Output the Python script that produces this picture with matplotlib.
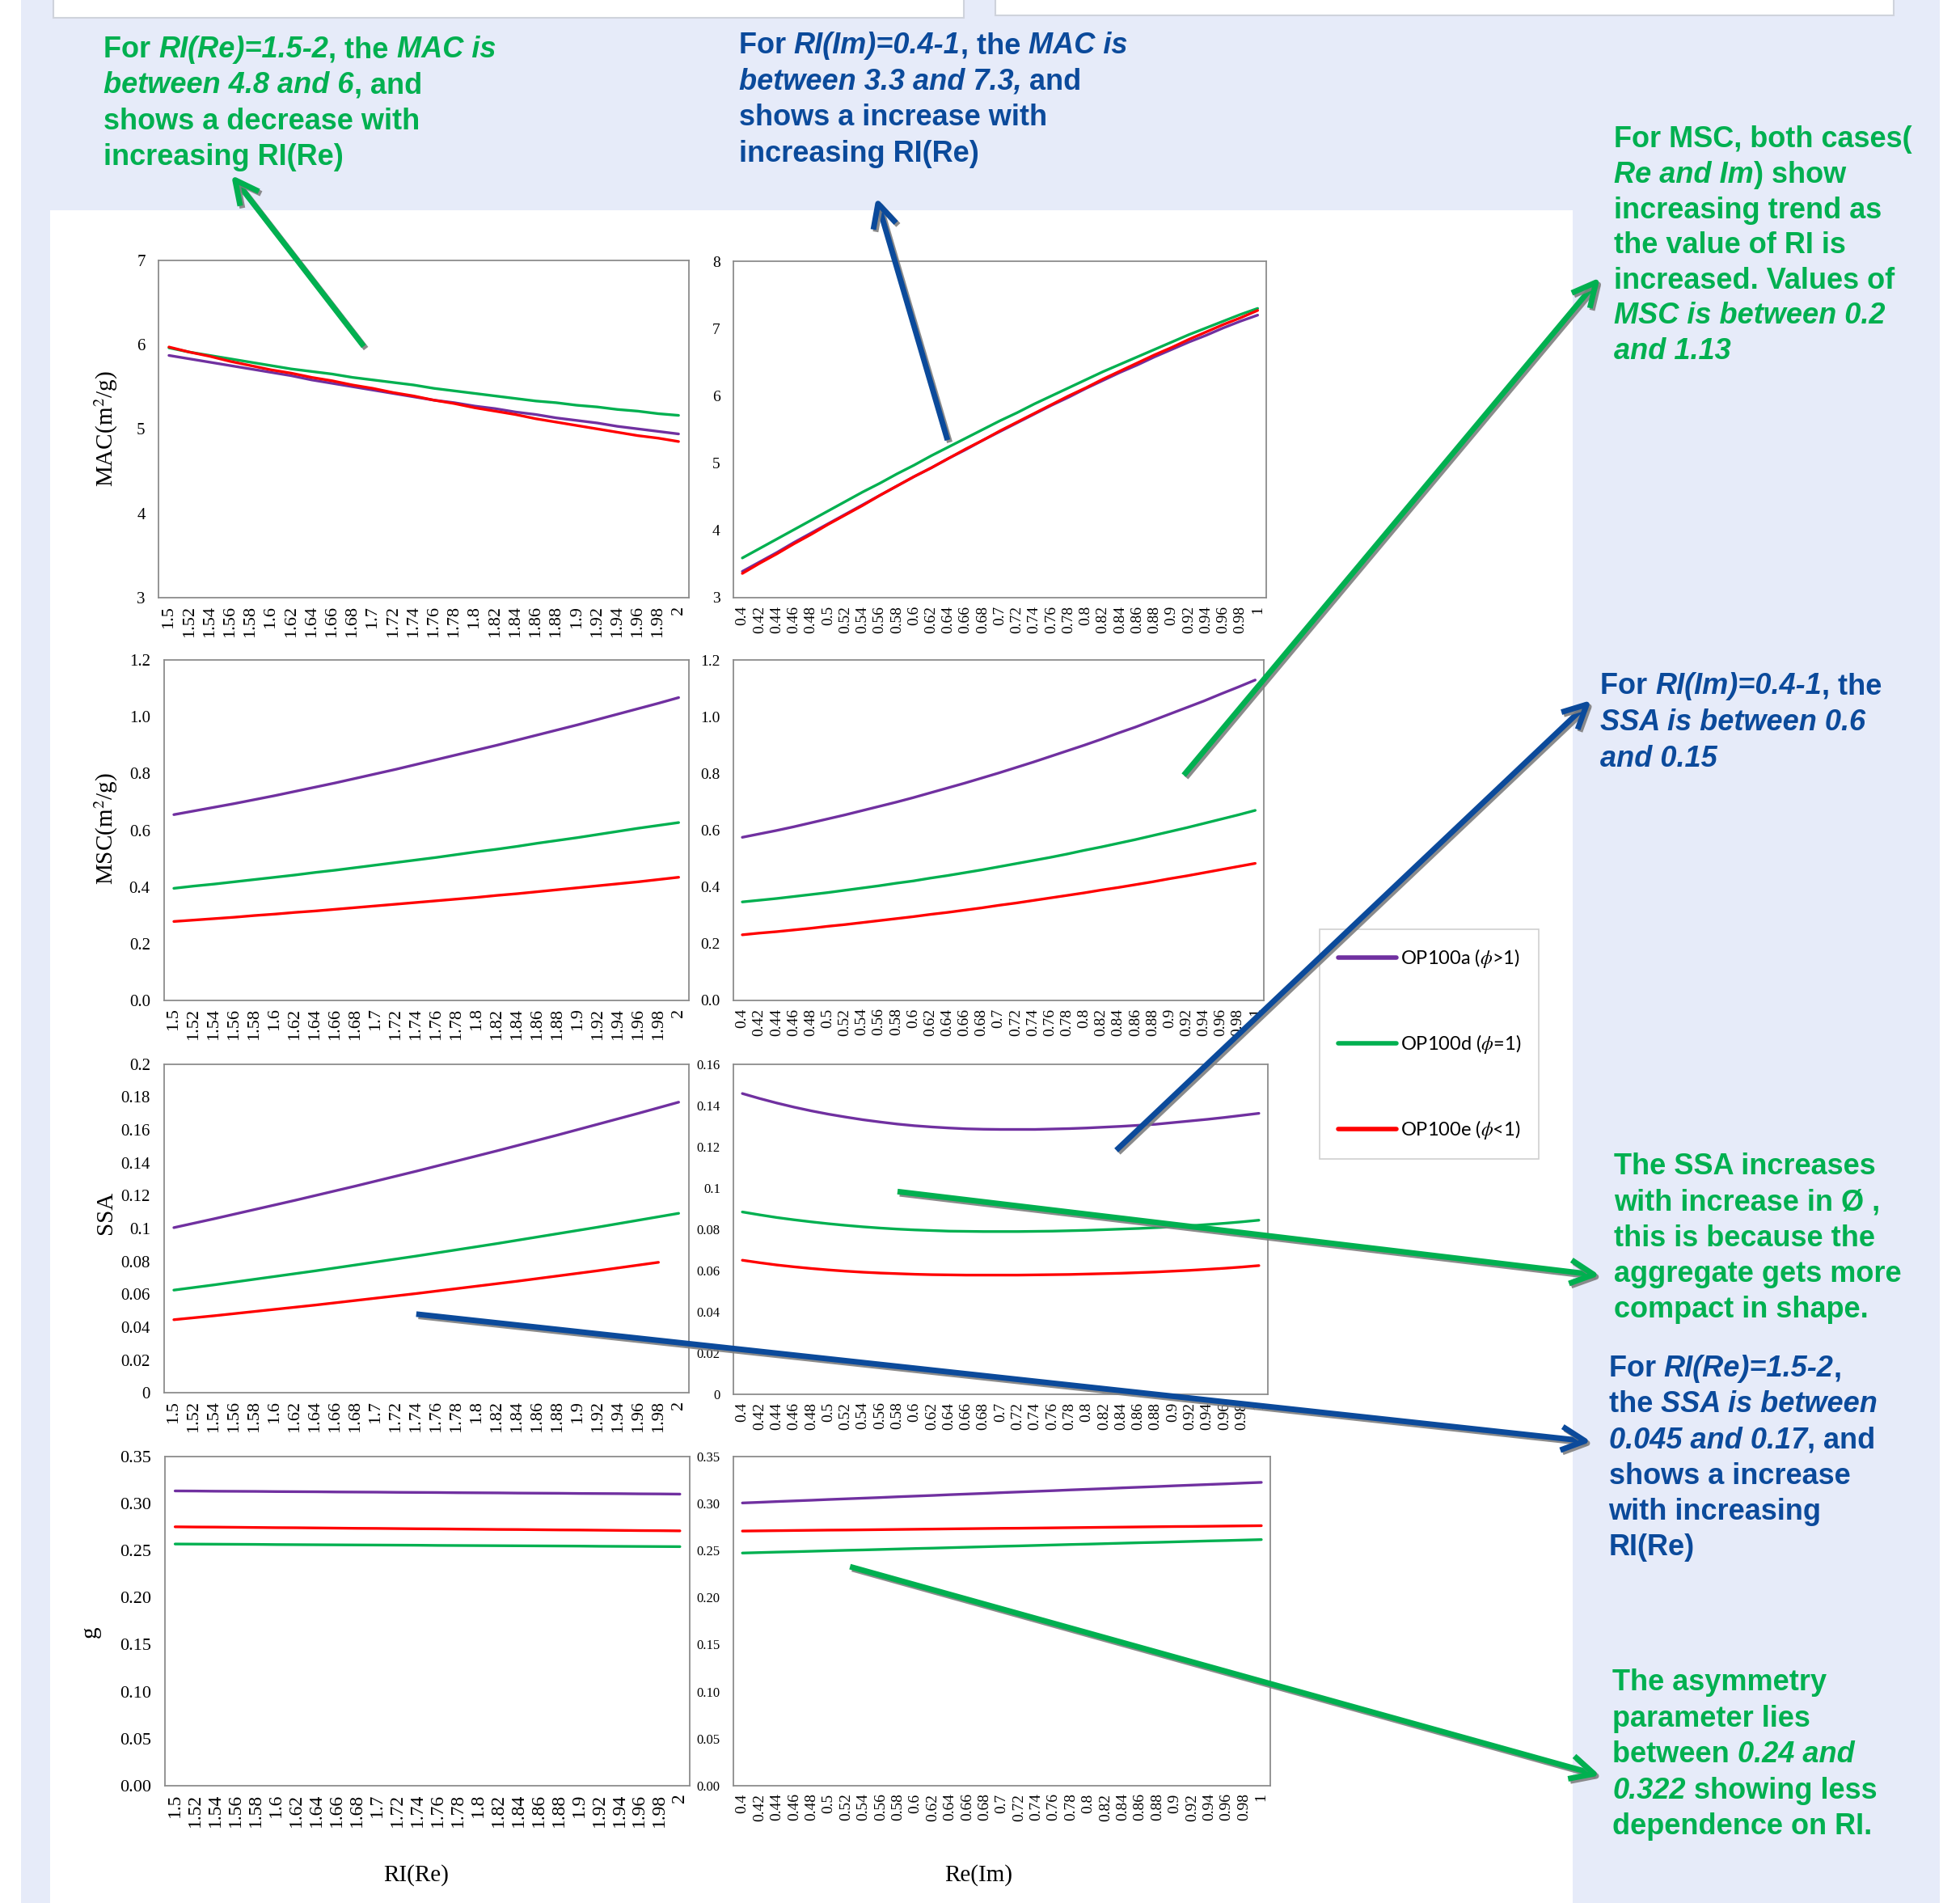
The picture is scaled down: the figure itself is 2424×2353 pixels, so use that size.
import numpy as np
import matplotlib
matplotlib.use("Agg")
import matplotlib.pyplot as plt
from matplotlib.patches import Rectangle, FancyArrowPatch
import matplotlib.patheffects as pe

plt.rcParams['font.family'] = ['Liberation Serif', 'DejaVu Serif']
plt.rcParams['mathtext.fontset'] = 'stix'

# category axes
ri_re = [1.5, 1.52, 1.54, 1.56, 1.58, 1.6, 1.62, 1.64, 1.66, 1.68, 1.7, 1.72, 1.74,
         1.76, 1.78, 1.8, 1.82, 1.84, 1.86, 1.88, 1.9, 1.92, 1.94, 1.96, 1.98, 2]
ri_im = [0.4, 0.42, 0.44, 0.46, 0.48, 0.5, 0.52, 0.54, 0.56, 0.58, 0.6, 0.62, 0.64,
         0.66, 0.68, 0.7, 0.72, 0.74, 0.76, 0.78, 0.8, 0.82, 0.84, 0.86, 0.88, 0.9,
         0.92, 0.94, 0.96, 0.98, 1]

series_names = ['OP100a ($\\phi$>1)', 'OP100d ($\\phi$=1)', 'OP100e ($\\phi$<1)']
series_colors = ['#7030a0', '#00b050', '#ff0000']

# MAC vs RI(Re)
mac_re_a = [5.87, 5.83, 5.79, 5.75, 5.71, 5.67, 5.63, 5.58, 5.54, 5.50, 5.46, 5.42, 5.38,
            5.34, 5.31, 5.27, 5.24, 5.20, 5.17, 5.13, 5.10, 5.07, 5.03, 5.00, 4.97, 4.94]
mac_re_d = [5.96, 5.91, 5.87, 5.83, 5.79, 5.75, 5.71, 5.68, 5.65, 5.61, 5.58, 5.55, 5.52,
            5.48, 5.45, 5.42, 5.39, 5.36, 5.33, 5.31, 5.28, 5.26, 5.23, 5.21, 5.18, 5.16]
mac_re_e = [5.97, 5.91, 5.86, 5.80, 5.75, 5.70, 5.66, 5.61, 5.57, 5.52, 5.48, 5.43, 5.39,
            5.34, 5.30, 5.25, 5.21, 5.17, 5.12, 5.08, 5.04, 5.00, 4.96, 4.92, 4.89, 4.85]

# MAC vs RI(Im)
mac_im_a = [3.39, 3.53, 3.67, 3.82, 3.96, 4.10, 4.24, 4.38, 4.52, 4.66, 4.80, 4.93, 5.07,
            5.20, 5.34, 5.47, 5.60, 5.73, 5.86, 5.98, 6.11, 6.23, 6.35, 6.46, 6.58, 6.69,
            6.80, 6.90, 7.01, 7.11, 7.20]
mac_im_d = [3.59, 3.73, 3.87, 4.01, 4.15, 4.29, 4.43, 4.57, 4.70, 4.84, 4.97, 5.11, 5.24,
            5.37, 5.50, 5.63, 5.75, 5.88, 6.00, 6.12, 6.24, 6.36, 6.47, 6.58, 6.69, 6.80,
            6.91, 7.01, 7.11, 7.21, 7.30]
mac_im_e = [3.36, 3.51, 3.65, 3.80, 3.94, 4.09, 4.23, 4.37, 4.52, 4.66, 4.80, 4.93, 5.07,
            5.21, 5.34, 5.48, 5.61, 5.74, 5.87, 6.00, 6.12, 6.25, 6.37, 6.49, 6.61, 6.72,
            6.84, 6.95, 7.06, 7.16, 7.27]

# MSC vs RI(Re)
msc_re_a = [0.655, 0.668, 0.681, 0.694, 0.708, 0.722, 0.737, 0.752, 0.767, 0.783, 0.799,
            0.815, 0.832, 0.849, 0.866, 0.883, 0.900, 0.918, 0.936, 0.954, 0.972, 0.991,
            1.010, 1.029, 1.048, 1.068]
msc_re_d = [0.395, 0.403, 0.410, 0.418, 0.426, 0.434, 0.442, 0.451, 0.459, 0.468, 0.477,
            0.486, 0.495, 0.504, 0.514, 0.524, 0.533, 0.543, 0.554, 0.564, 0.574, 0.585,
            0.596, 0.607, 0.617, 0.627]
msc_re_e = [0.278, 0.283, 0.288, 0.293, 0.299, 0.304, 0.310, 0.315, 0.321, 0.327, 0.333,
            0.339, 0.345, 0.351, 0.357, 0.363, 0.370, 0.376, 0.383, 0.390, 0.397, 0.404,
            0.411, 0.418, 0.426, 0.434]

# MSC vs RI(Im)
msc_im_a = [0.575, 0.587, 0.599, 0.612, 0.626, 0.640, 0.654, 0.669, 0.684, 0.699, 0.715,
            0.732, 0.749, 0.766, 0.784, 0.802, 0.821, 0.840, 0.860, 0.880, 0.900, 0.921,
            0.943, 0.964, 0.987, 1.010, 1.033, 1.056, 1.081, 1.105, 1.130]
msc_im_d = [0.347, 0.353, 0.359, 0.366, 0.373, 0.380, 0.388, 0.396, 0.404, 0.413, 0.421,
            0.431, 0.440, 0.450, 0.460, 0.471, 0.482, 0.493, 0.504, 0.516, 0.529, 0.541,
            0.554, 0.567, 0.581, 0.595, 0.609, 0.624, 0.639, 0.654, 0.670]
msc_im_e = [0.231, 0.237, 0.242, 0.248, 0.254, 0.261, 0.267, 0.274, 0.281, 0.288, 0.295,
            0.303, 0.310, 0.318, 0.326, 0.335, 0.343, 0.352, 0.361, 0.370, 0.379, 0.389,
            0.398, 0.408, 0.418, 0.429, 0.439, 0.450, 0.461, 0.472, 0.483]

# SSA vs RI(Re)
ssa_re_a = [0.1005, 0.1032, 0.1059, 0.1087, 0.1115, 0.1143, 0.1171, 0.1200, 0.1229,
            0.1258, 0.1288, 0.1318, 0.1348, 0.1379, 0.1410, 0.1441, 0.1472, 0.1504,
            0.1536, 0.1568, 0.1601, 0.1634, 0.1667, 0.1700, 0.1734, 0.1768]
ssa_re_d = [0.0625, 0.0641, 0.0657, 0.0674, 0.0691, 0.0708, 0.0725, 0.0742, 0.0760,
            0.0778, 0.0796, 0.0814, 0.0832, 0.0851, 0.0870, 0.0889, 0.0908, 0.0928,
            0.0948, 0.0968, 0.0988, 0.1008, 0.1029, 0.1050, 0.1071, 0.1092]
ssa_re_e = [0.0445, 0.0457, 0.0469, 0.0482, 0.0495, 0.0508, 0.0521, 0.0534, 0.0548,
            0.0562, 0.0576, 0.0590, 0.0604, 0.0619, 0.0634, 0.0649, 0.0664, 0.0679,
            0.0695, 0.0711, 0.0727, 0.0743, 0.0760, 0.0777, 0.0794, np.nan]

# SSA vs RI(Im)
ssa_im_a = [0.1457, 0.1433, 0.1411, 0.1391, 0.1373, 0.1357, 0.1343, 0.1330, 0.1319,
            0.1309, 0.1301, 0.1295, 0.1290, 0.1286, 0.1284, 0.1283, 0.1283, 0.1283,
            0.1285, 0.1287, 0.1290, 0.1294, 0.1298, 0.1303, 0.1308, 0.1316, 0.1324,
            0.1332, 0.1341, 0.1351, 0.1361]
ssa_im_d = [0.0883, 0.0869, 0.0856, 0.0845, 0.0835, 0.0826, 0.0818, 0.0811, 0.0805,
            0.0800, 0.0796, 0.0793, 0.0790, 0.0789, 0.0788, 0.0788, 0.0788, 0.0789,
            0.0790, 0.0792, 0.0794, 0.0797, 0.0800, 0.0803, 0.0807, 0.0811, 0.0816,
            0.0822, 0.0828, 0.0835, 0.0843]
ssa_im_e = [0.0649, 0.0637, 0.0626, 0.0617, 0.0609, 0.0602, 0.0596, 0.0591, 0.0587,
            0.0584, 0.0581, 0.0579, 0.0578, 0.0577, 0.0577, 0.0577, 0.0577, 0.0578,
            0.0579, 0.0580, 0.0582, 0.0584, 0.0586, 0.0589, 0.0592, 0.0596, 0.0600,
            0.0605, 0.0610, 0.0616, 0.0623]

# asymmetry parameter g vs RI(Re)
g_re_a = [0.3135, 0.3134, 0.3132, 0.3131, 0.3130, 0.3128, 0.3127, 0.3126, 0.3124, 0.3123,
          0.3122, 0.3120, 0.3119, 0.3118, 0.3116, 0.3115, 0.3114, 0.3112, 0.3111, 0.3110,
          0.3108, 0.3107, 0.3106, 0.3104, 0.3103, 0.3101]
g_re_d = [0.2570, 0.2569, 0.2568, 0.2567, 0.2566, 0.2564, 0.2563, 0.2562, 0.2561, 0.2560,
          0.2559, 0.2558, 0.2557, 0.2555, 0.2554, 0.2553, 0.2552, 0.2551, 0.2550, 0.2549,
          0.2548, 0.2546, 0.2545, 0.2544, 0.2543, 0.2542]
g_re_e = [0.2753, 0.2751, 0.2750, 0.2748, 0.2746, 0.2744, 0.2743, 0.2741, 0.2739, 0.2737,
          0.2736, 0.2734, 0.2732, 0.2731, 0.2729, 0.2727, 0.2725, 0.2724, 0.2722, 0.2720,
          0.2719, 0.2717, 0.2715, 0.2713, 0.2712, 0.2710]

# asymmetry parameter g vs RI(Im)
g_im_a = [0.3007, 0.3014, 0.3022, 0.3029, 0.3036, 0.3044, 0.3051, 0.3058, 0.3065, 0.3073,
          0.3080, 0.3087, 0.3095, 0.3102, 0.3109, 0.3117, 0.3124, 0.3131, 0.3138, 0.3146,
          0.3153, 0.3160, 0.3168, 0.3175, 0.3182, 0.3190, 0.3197, 0.3204, 0.3211, 0.3219,
          0.3226]
g_im_d = [0.2474, 0.2479, 0.2484, 0.2488, 0.2493, 0.2498, 0.2503, 0.2507, 0.2512, 0.2517,
          0.2522, 0.2526, 0.2531, 0.2536, 0.2541, 0.2546, 0.2550, 0.2555, 0.2560, 0.2565,
          0.2569, 0.2574, 0.2579, 0.2584, 0.2588, 0.2593, 0.2598, 0.2603, 0.2607, 0.2612,
          0.2617]
g_im_e = [0.2708, 0.2710, 0.2712, 0.2714, 0.2716, 0.2718, 0.2719, 0.2721, 0.2723, 0.2725,
          0.2727, 0.2729, 0.2731, 0.2733, 0.2735, 0.2737, 0.2738, 0.2740, 0.2742, 0.2744,
          0.2746, 0.2748, 0.2750, 0.2752, 0.2754, 0.2756, 0.2757, 0.2759, 0.2761, 0.2763,
          0.2765]

GREEN = '#00b050'
BLUE = '#0b4a9b'
LAVENDER = '#e6ebf9'

# layout is worked out on a 1568 x 1522 grid, y pointing down
W, H = 1568.0, 1522.0


def fx(x):
    return x / W


def fy(y):
    return 1 - y / H


fig = plt.figure(figsize=(24.24, 23.53), dpi=100)
fig.patch.set_facecolor(LAVENDER)


def box(x0, y0, x1, y1, fc='white', ec='none', lw=0):
    r = Rectangle((fx(x0), fy(y1)), (x1 - x0) / W, (y1 - y0) / H,
                  transform=fig.transFigure, facecolor=fc, edgecolor=ec,
                  linewidth=lw, zorder=-5)
    fig.add_artist(r)


box(0, 0, 17, H)
box(1552, 0, W, H)
box(40, 168, 1258, H)
box(43, -5, 771, 14, ec='#cfd3dc', lw=1.5)
box(796, -5, 1515, 12, ec='#cfd3dc', lw=1.5)


def draw_panel(rect, cats, ys, ylim, yticks, yfmt, xfs, yfs):
    l, t, r, b = rect
    ax = fig.add_axes([fx(l), fy(b), (r - l) / W, (b - t) / H])
    pos = np.arange(len(cats))
    for y, c, name in zip(ys, series_colors, series_names):
        ax.plot(pos, y, color=c, lw=2.4, label=name, solid_capstyle='round')
    ax.set_xlim(-0.5, len(cats) - 0.5)
    ax.set_ylim(*ylim)
    ax.set_xticks(pos)
    ax.set_xticklabels(['{:g}'.format(c) for c in cats], rotation=90, fontsize=xfs)
    ax.set_yticks(yticks)
    ax.set_yticklabels([yfmt.format(v) for v in yticks], fontsize=yfs)
    ax.tick_params(length=0)
    ax.tick_params(axis='y', pad=12)
    ax.tick_params(axis='x', pad=7)
    for s in ax.spines.values():
        s.set_color('#8c8c8c')
        s.set_linewidth(1.3)
    return ax


def ticks(lo, hi, step):
    return [round(v, 3) for v in np.arange(lo, hi + step / 2, step)]


ax_mac_re = draw_panel((127, 208, 551, 478), ri_re, [mac_re_a, mac_re_d, mac_re_e],
                       (3, 7), ticks(3, 7, 1), '{:g}', 16, 15)
ax_mac_im = draw_panel((587, 209, 1013, 478), ri_im, [mac_im_a, mac_im_d, mac_im_e],
                       (3, 8), ticks(3, 8, 1), '{:g}', 14, 14)
ax_msc_re = draw_panel((131, 528, 551, 800), ri_re, [msc_re_a, msc_re_d, msc_re_e],
                       (0, 1.2), ticks(0, 1.2, 0.2), '{:.1f}', 16, 15)
ax_msc_im = draw_panel((587, 528, 1011, 800), ri_im, [msc_im_a, msc_im_d, msc_im_e],
                       (0, 1.2), ticks(0, 1.2, 0.2), '{:.1f}', 14, 14)
ax_ssa_re = draw_panel((131, 851, 551, 1114), ri_re, [ssa_re_a, ssa_re_d, ssa_re_e],
                       (0, 0.2), ticks(0, 0.2, 0.02), '{:g}', 16, 15)
ax_ssa_im = draw_panel((587, 851, 1014, 1115), ri_im, [ssa_im_a, ssa_im_d, ssa_im_e],
                       (0, 0.16), ticks(0, 0.16, 0.02), '{:g}', 14, 12)
ax_g_re = draw_panel((132, 1165, 552, 1428), ri_re, [g_re_a, g_re_d, g_re_e],
                     (0, 0.35), ticks(0, 0.35, 0.05), '{:.2f}', 17, 16)
ax_g_im = draw_panel((587, 1165, 1016, 1428), ri_im, [g_im_a, g_im_d, g_im_e],
                     (0, 0.35), ticks(0, 0.35, 0.05), '{:.2f}', 14, 12)

# axis titles
for txt, x, y in [('MAC(m$^2$/g)', 85, 343), ('MSC(m$^2$/g)', 85, 663),
                  ('SSA', 85, 970), ('g', 72, 1305)]:
    fig.text(fx(x), fy(y), txt, rotation=90, ha='center', va='center', fontsize=21)
fig.text(fx(333), fy(1500), 'RI(Re)', ha='center', va='center', fontsize=21)
fig.text(fx(783), fy(1500), 'Re(Im)', ha='center', va='center', fontsize=21)

handles, labels = ax_g_re.get_legend_handles_labels()
leg = fig.legend(handles, labels, loc='upper left',
                 bbox_to_anchor=(fx(1056), fy(743)), borderaxespad=0,
                 prop={'family': ['Lato', 'DejaVu Sans'], 'size': 17},
                 handlelength=3.05, handletextpad=0.2, labelspacing=3.3,
                 borderpad=0.95, fancybox=False, edgecolor='#d0d0d0', framealpha=1)
leg.get_frame().set_linewidth(1.2)
for h in leg.get_lines():
    h.set_linewidth(4)

# callout text blocks
renderer = fig.canvas.get_renderer()
FIG_W, FIG_H = fig.bbox.width, fig.bbox.height


def note(x, y0, dy, lines, color, size=26):
    for i, line in enumerate(lines):
        cx = fx(x)
        cy = fy(y0 + i * dy + 8)
        for seg in line:
            if isinstance(seg, tuple):
                txt, style = seg[0], 'italic'
            else:
                txt, style = seg, 'normal'
            t = fig.text(cx, cy, txt, fontsize=size, fontweight='bold', style=style,
                         color=color, ha='left', va='baseline', zorder=12,
                         family=['Liberation Sans', 'DejaVu Sans'])
            bb = t.get_window_extent(renderer=renderer)
            cx = bb.x1 / FIG_W


note(83, 38, 28.7, [
    ['For ', ('RI(Re)=1.5-2',), ', the ', ('MAC is',)],
    [('between 4.8 and 6',), ', and'],
    ['shows a decrease with'],
    ['increasing RI(Re)'],
], GREEN)
note(591, 35, 28.7, [
    ['For ', ('RI(Im)=0.4-1',), ', the ', ('MAC is',)],
    [('between 3.3 and 7.3,',), ' and'],
    ['shows a increase with'],
    ['increasing RI(Re)'],
], BLUE)
note(1291, 110, 28.2, [
    ['For MSC, both cases('],
    [('Re and Im',), ') show'],
    ['increasing trend as'],
    ['the value of RI is'],
    ['increased. Values of'],
    [('MSC is between 0.2',)],
    [('and 1.13',)],
], GREEN)
note(1280, 547, 29, [
    ['For ', ('RI(Im)=0.4-1',), ', the'],
    [('SSA is between 0.6',)],
    [('and 0.15',)],
], BLUE)
note(1291, 931, 28.75, [
    ['The SSA increases'],
    ['with increase in \u00d8 ,'],
    ['this is because the'],
    ['aggregate gets more'],
    ['compact in shape.'],
], GREEN)
note(1287, 1093, 28.6, [
    ['For ', ('RI(Re)=1.5-2',), ','],
    ['the ', ('SSA is between',)],
    [('0.045 and 0.17',), ', and'],
    ['shows a increase'],
    ['with increasing'],
    ['RI(Re)'],
], BLUE)
note(1290, 1344, 28.75, [
    ['The asymmetry'],
    ['parameter lies'],
    ['between ', ('0.24 and',)],
    [('0.322',), ' showing less'],
    ['dependence on RI.'],
], GREEN)

# pointer arrows
arrows = [
    ((291, 277), (185, 140), GREEN),
    ((758, 352), (701, 158), BLUE),
    ((947, 620), (1280, 222), GREEN),
    ((893, 920), (1273, 560), BLUE),
    ((718, 953), (1280, 1020), GREEN),
    ((333, 1051), (1273, 1153), BLUE),
    ((680, 1253), (1280, 1420), GREEN),
]
for (x0, y0), (x1, y1), c in arrows:
    a = FancyArrowPatch((fx(x0), fy(y0)), (fx(x1), fy(y1)), transform=fig.transFigure,
                        arrowstyle='->,head_length=0.7,head_width=0.35',
                        mutation_scale=30, color=c, lw=5, shrinkA=0, shrinkB=0,
                        zorder=11, capstyle='butt')
    a.set_path_effects([pe.SimpleLineShadow(offset=(2, -2), shadow_color='#7f7f7f', alpha=0.9),
                        pe.Normal()])
    fig.add_artist(a)

fig.savefig('out.png', dpi=100, facecolor=fig.get_facecolor())
